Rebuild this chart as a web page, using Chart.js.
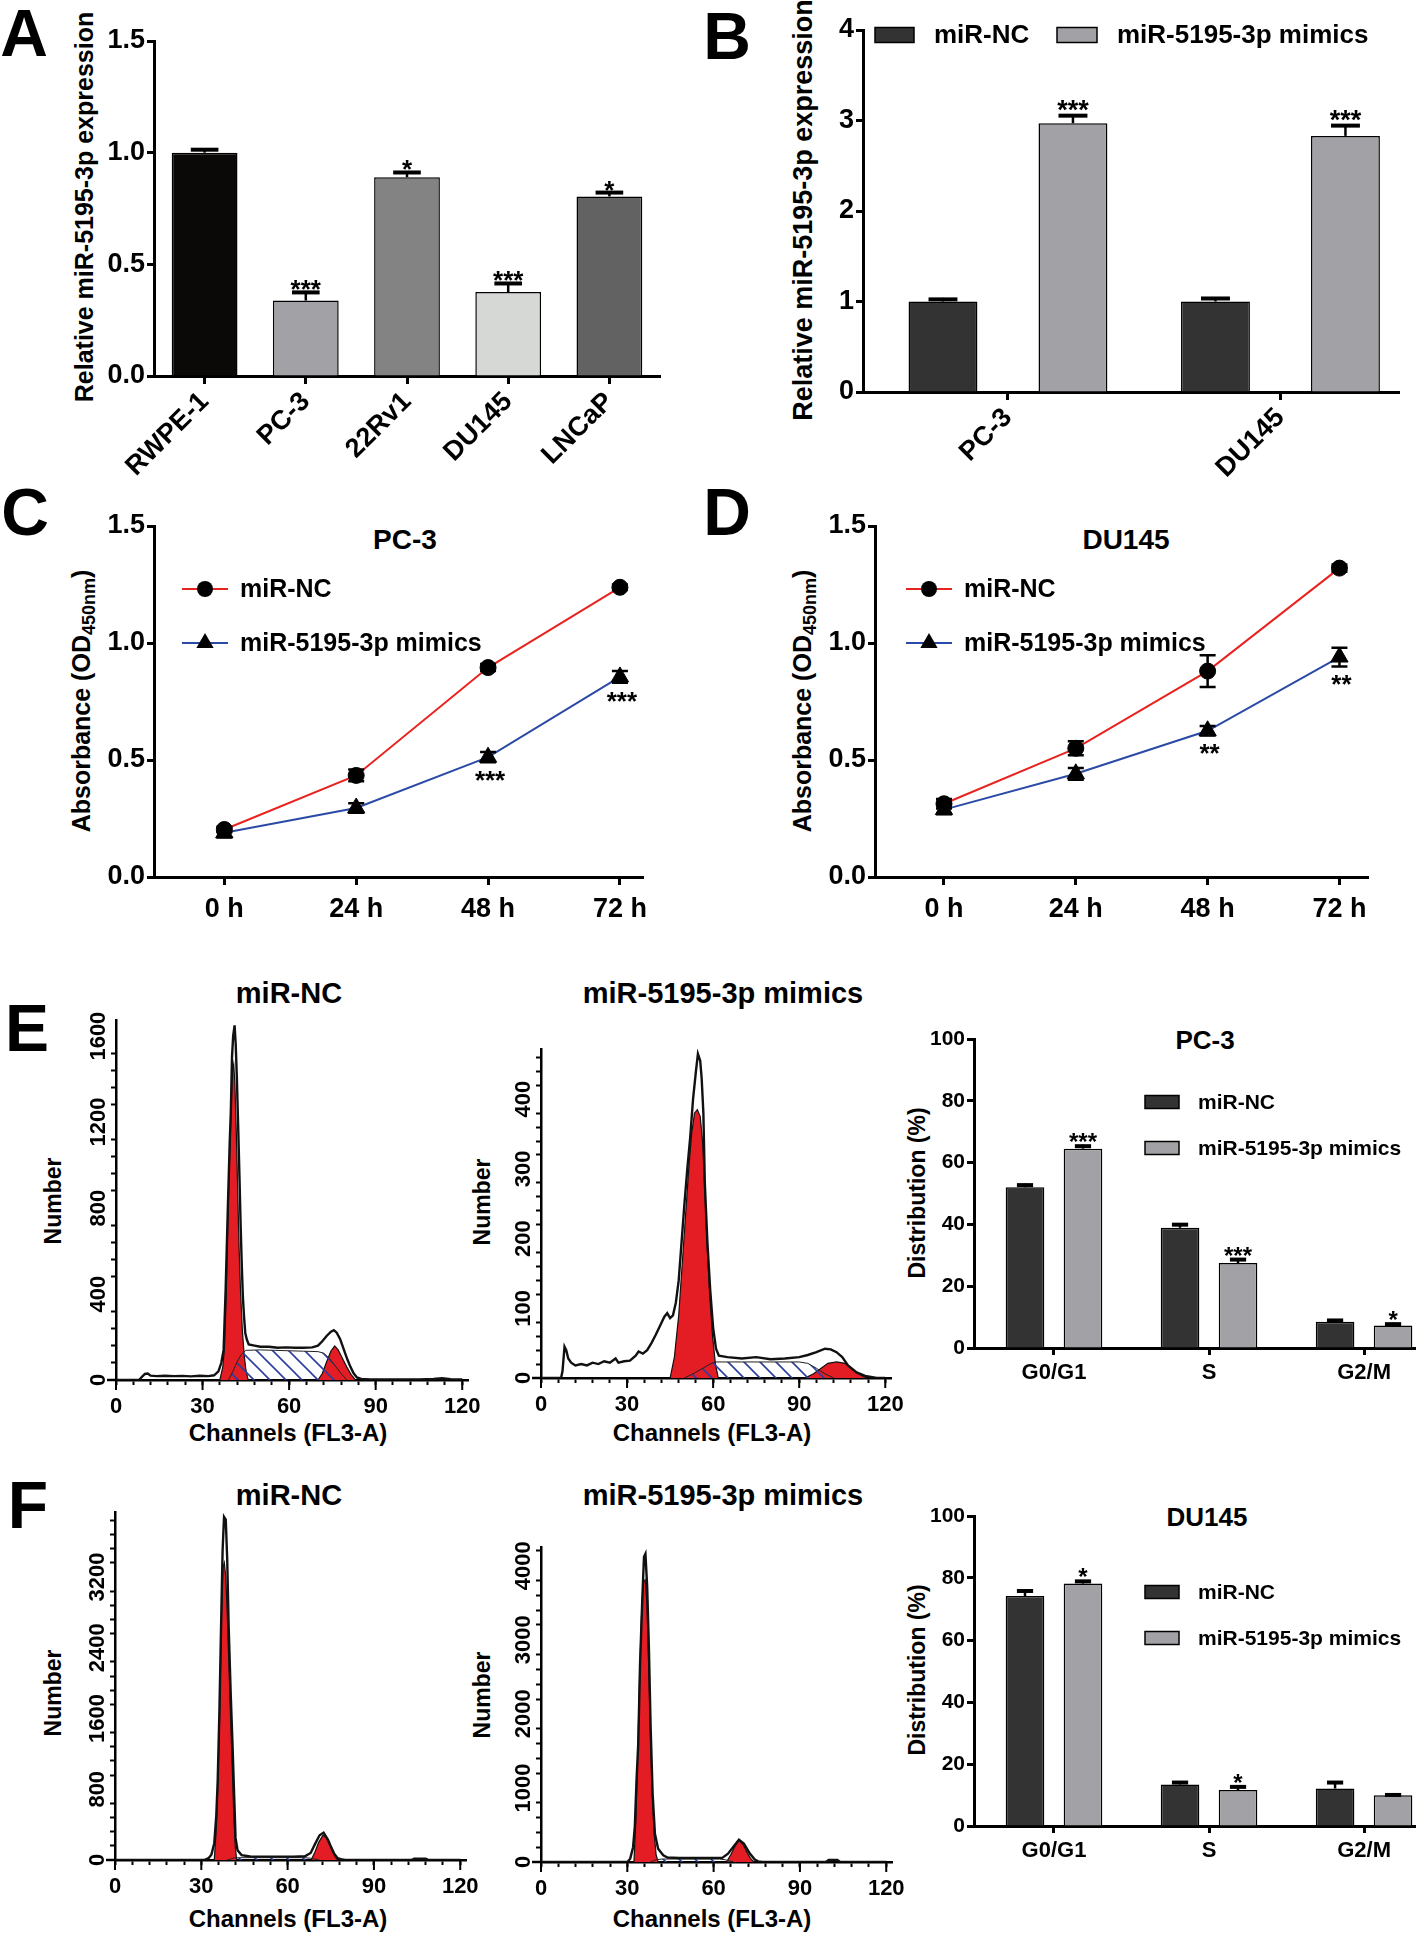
<!DOCTYPE html>
<html>
<head>
<meta charset="utf-8">
<title>miR-5195-3p figure</title>
<script src="https://cdn.jsdelivr.net/npm/chart.js@4.4.1/dist/chart.umd.min.js"></script>
<style>
  html, body { margin: 0; padding: 0; background: #fff; }
  body { position: relative; width: 1416px; height: 1933px; overflow: hidden;
         font-family: "Liberation Sans", Arial, Helvetica, sans-serif; font-weight: bold; color: #000; }
  canvas { position: absolute; }
  .t { position: absolute; white-space: nowrap; line-height: 1; transform: translate(-50%, -50%); }
  .v { transform: translate(-50%, -50%) rotate(-90deg); }
  .lt { font-size: 66px; }
  sub { font-size: 0.72em; vertical-align: -0.28em; line-height: 0; }
</style>
</head>
<body>
<!-- panel letters -->
<div class="t lt" style="left:24px;top:33px">A</div>
<div class="t lt" style="left:727px;top:36px">B</div>
<div class="t lt" style="left:25px;top:512px">C</div>
<div class="t lt" style="left:727px;top:512px">D</div>
<div class="t lt" style="left:27px;top:1028px">E</div>
<div class="t lt" style="left:28px;top:1505px">F</div>

<!-- axis titles -->
<div class="t v" style="left:84px;top:207px;font-size:25px">Relative miR-5195-3p expression</div>
<div class="t v" style="left:803px;top:210px;font-size:27px">Relative miR-5195-3p expression</div>
<div class="t v" style="left:81px;top:701px;font-size:25px">Absorbance (OD<sub>450nm</sub>)</div>
<div class="t v" style="left:802px;top:701px;font-size:25px">Absorbance (OD<sub>450nm</sub>)</div>
<div class="t v" style="left:53px;top:1201px;font-size:23px">Number</div>
<div class="t v" style="left:482px;top:1202px;font-size:23px">Number</div>
<div class="t v" style="left:53px;top:1693px;font-size:23px">Number</div>
<div class="t v" style="left:482px;top:1695px;font-size:23px">Number</div>
<div class="t v" style="left:917px;top:1193px;font-size:23px">Distribution (%)</div>
<div class="t v" style="left:917px;top:1670px;font-size:23px">Distribution (%)</div>

<!-- chart titles -->
<div class="t" style="left:405px;top:540px;font-size:28px">PC-3</div>
<div class="t" style="left:1126px;top:540px;font-size:28px">DU145</div>
<div class="t" style="left:289px;top:993px;font-size:29px">miR-NC</div>
<div class="t" style="left:723px;top:993px;font-size:29px">miR-5195-3p mimics</div>
<div class="t" style="left:289px;top:1495px;font-size:29px">miR-NC</div>
<div class="t" style="left:723px;top:1495px;font-size:29px">miR-5195-3p mimics</div>
<div class="t" style="left:1205px;top:1040px;font-size:26px">PC-3</div>
<div class="t" style="left:1207px;top:1517px;font-size:26px">DU145</div>
<div class="t" style="left:288px;top:1433px;font-size:24px">Channels (FL3-A)</div>
<div class="t" style="left:712px;top:1433px;font-size:24px">Channels (FL3-A)</div>
<div class="t" style="left:288px;top:1919px;font-size:24px">Channels (FL3-A)</div>
<div class="t" style="left:712px;top:1919px;font-size:24px">Channels (FL3-A)</div>

<script>
// ---------- A: miR-5195-3p in cell lines
var cellLines = ["RWPE-1", "PC-3", "22Rv1", "DU145", "LNCaP"];
var exprLines = [1.00, 0.338, 0.89, 0.376, 0.804];
var exprLinesErr = [0.02, 0.043, 0.028, 0.045, 0.024];
var exprLinesSig = ["", "***", "*", "***", "*"];
var exprTicks = [0, 0.5, 1.0, 1.5];
var exprTickLabels = ["0.0", "0.5", "1.0", "1.5"];

// ---------- B: after transfection
var transCells = ["PC-3", "DU145"];
var exprNC = [1.0, 1.0];
var exprNCErr = [0.04, 0.05];
var exprMim = [2.97, 2.83];
var exprMimErr = [0.10, 0.13];
var exprMimSig = ["***", "***"];
var exprBTicks = [0, 1, 2, 3, 4];
var exprBTickLabels = ["0", "1", "2", "3", "4"];

// ---------- C / D: CCK-8
var hours = [0, 24, 48, 72];
var hourLabels = ["0 h", "24 h", "48 h", "72 h"];
var odPC3NC = [0.203, 0.434, 0.895, 1.238];
var odPC3NCErr = [0.012, 0.025, 0.015, 0.012];
var odPC3Mim = [0.189, 0.295, 0.512, 0.855];
var odPC3MimErr = [0.02, 0.02, 0.022, 0.025];
var odPC3Sig = ["", "", "***", "***"];
var odDUNC = [0.313, 0.55, 0.88, 1.32];
var odDUNCErr = [0.02, 0.03, 0.068, 0.015];
var odDUMim = [0.288, 0.441, 0.625, 0.94];
var odDUMimErr = [0.02, 0.025, 0.02, 0.04];
var odDUSig = ["", "", "**", "**"];

// ---------- E / F: cell cycle distribution
var phases = ["G0/G1", "S", "G2/M"];
var ccPC3NC = [52.0, 38.9, 8.5];
var ccPC3NCErr = [1.2, 1.5, 0.9];
var ccPC3Mim = [64.5, 27.5, 7.3];
var ccPC3MimErr = [1.3, 1.6, 0.9];
var ccPC3Sig = ["***", "***", "*"];
var ccDUNC = [74.2, 13.4, 12.1];
var ccDUNCErr = [2.1, 1.1, 2.4];
var ccDUMim = [78.2, 11.6, 9.9];
var ccDUMimErr = [1.2, 1.5, 0.6];
var ccDUSig = ["*", "*", ""];
var pctTicks = [0, 20, 40, 60, 80, 100];
var pctTickLabels = ["0", "20", "40", "60", "80", "100"];

// ---------- flow histograms [channel, count]
var chanTicks = [0, 30, 60, 90, 120];
var chanTickLabels = ["0", "30", "60", "90", "120"];

var histE1Raw = [[0,0],[8,0],[9,15],[10,28],[11,30],[12,20],[14,18],[17,20],[20,18],[23,19],[26,17],[29,20],[32,18],[34,22],[35.5,40],[36.5,80],[37.3,140],[38,420],[38.8,820],[39.4,1100],[39.8,1250],[40.2,1500],[40.6,1600],[41.1,1650],[41.5,1560],[41.9,1400],[42.4,1150],[42.8,940],[43.2,720],[43.6,530],[44,380],[44.4,290],[44.8,220],[45.3,190],[46,165],[48,160],[50,155],[53,155],[56,150],[59,152],[62,150],[65,150],[68,152],[70,160],[71.5,180],[73,205],[74.5,225],[75.5,232],[76.5,220],[77.7,190],[79,140],[80.2,95],[81.3,60],[82.3,32],[83.5,12],[85,5],[88,3],[95,3],[105,3],[110,5],[113,8],[116,4],[120,3]];
var histE1G1 = [[36,0],[37,60],[37.6,150],[38.2,400],[38.8,760],[39.4,1050],[39.9,1260],[40.4,1440],[40.8,1470],[41.2,1380],[41.7,1150],[42.2,870],[42.7,600],[43.2,400],[43.8,230],[44.4,120],[45,50],[45.8,0]];
var histE1G2 = [[70,0],[71.5,30],[73,85],[74.5,135],[75.8,158],[77,140],[78.5,100],[80,60],[81.5,25],[83,0]];
var histE1S = [[39,0],[40.5,40],[42,85],[43.5,120],[45,138],[50,140],[55,138],[60,136],[65,134],[70,132],[72,125],[74,100],[76,65],[78,30],[80,0]];
var histE1YTicks = [0, 400, 800, 1200, 1600];

var histE2Raw = [[0,0],[7,0],[7.5,10],[8.2,45],[8.8,40],[9.5,28],[10.5,22],[12,18],[14,20],[16,18],[18,22],[20,20],[22,24],[24,22],[26,28],[27,22],[29,24],[31,25],[33,32],[34,38],[35.5,35],[37,40],[38.5,50],[40,62],[41.5,75],[43,88],[44,93],[45,86],[46,90],[47,108],[48,140],[49,195],[50,250],[51,300],[52,345],[53,400],[54,440],[54.7,465],[55.5,455],[56,430],[56.6,380],[57.1,280],[58,195],[59,125],[60,72],[61,42],[62,32],[65,30],[70,28],[75,30],[80,27],[85,28],[90,30],[93,33],[96,37],[99,42],[101,41],[103,37],[105,30],[107,18],[110,8],[113,3],[117,0],[120,0]];
var histE2G1 = [[45,0],[46.5,30],[48,90],[49.5,180],[50.5,240],[51.5,300],[52.5,350],[53.5,380],[54.5,385],[55.5,375],[56.3,340],[57,280],[57.8,200],[58.8,120],[59.8,60],[60.8,20],[61.8,0]];
var histE2G2 = [[92,0],[95,6],[98,15],[100,21],[103,23],[106,21],[108,15],[110,8],[112,3],[113.5,0]];
var histE2S = [[50,0],[53,6],[56,13],[58.5,19],[60.5,23],[70,23],[80,23],[90,23],[93,21],[96,14],[99,6],[102,0]];
var histE2YTicks = [0, 100, 200, 300, 400];

var histF1Raw = [[0,0],[31,0],[32.5,20],[33.5,60],[34.5,190],[35.2,500],[35.7,900],[36.3,1700],[36.9,2700],[37.4,3500],[37.9,3880],[38.5,3850],[39,3400],[39.5,2650],[40.2,1900],[40.8,1350],[41.4,750],[41.9,250],[42.6,110],[44,55],[47,40],[52,38],[57,38],[62,38],[66,42],[68,80],[69.6,185],[71.1,280],[72.5,310],[74,230],[75.2,140],[76.2,70],[77.4,20],[79,5],[80,0],[103,0],[104,15],[108,15],[109,0],[120,0]];
var histF1G1 = [[34.5,0],[35.2,350],[35.8,900],[36.4,1700],[37,2700],[37.5,3300],[38,3360],[38.5,3200],[39,2800],[39.6,2200],[40.2,1600],[40.8,1000],[41.3,500],[41.8,150],[42.3,0]];
var histF1G2 = [[68.2,0],[69.5,90],[70.8,200],[72.3,280],[73.5,250],[74.8,160],[76,70],[77,15],[77.6,0]];
var histF1S = [[39,0],[41,20],[43,26],[55,26],[66,26],[68,20],[71,0]];
var histF1YTicks = [0, 800, 1600, 2400, 3200];

var histF2Raw = [[0,0],[30,0],[31,45],[32,200],[32.6,470],[33.2,1100],[33.8,1600],[34.4,2640],[35.2,3540],[35.8,4120],[36.3,4160],[36.9,3720],[37.5,2900],[38.1,1830],[38.8,920],[39.6,380],[40.7,180],[42.5,90],[44,60],[48,55],[53,54],[58,55],[63,56],[65,113],[66.8,203],[68.8,302],[70.5,250],[72.6,113],[74.3,32],[75.5,8],[77,0],[99,0],[100,28],[103,28],[104,0],[120,0]];
var histF2G1 = [[32.3,0],[33,600],[33.6,1400],[34.2,2400],[34.9,3300],[35.6,3780],[36.2,3810],[36.8,3500],[37.4,2700],[38,1800],[38.6,1000],[39.3,400],[40,100],[40.7,0]];
var histF2G2 = [[64.5,0],[66,100],[67.5,220],[68.8,290],[70.2,240],[71.5,140],[72.8,50],[74,0]];
var histF2S = [[38,0],[40,30],[42,40],[55,40],[62,40],[64,30],[67,0]];
var histF2YTicks = [0, 1000, 2000, 3000, 4000];

// ---------- colours
var barColorsA = ["#0b0808", "#a2a2a6", "#838383", "#d6d8d6", "#626262"];
var darkBar = "#333333";
var lightBar = "#a2a2a6";
var redLine = "#e8231f";
var blueLine = "#2b4aa5";
var histRed = "#e41c23";
var hatchBlue = "#2b3f9e";
var FONT = '"Liberation Sans", Arial, sans-serif';

Chart.defaults.font.family = FONT;
Chart.defaults.font.weight = "bold";
Chart.defaults.color = "#000";
Chart.defaults.plugins.legend.display = false;
Chart.defaults.plugins.tooltip.enabled = false;
Chart.defaults.animation = false;

// error bars, stars, legends, rotated histogram labels
var figPlugin = {
  id: "fig",
  afterDatasetsDraw: function (chart) {
    var ctx = chart.ctx, ys = chart.scales.y;
    ctx.save();
    ctx.strokeStyle = "#000";
    ctx.fillStyle = "#000";
    chart.data.datasets.forEach(function (ds, di) {
      if (!ds.errors) return;
      var meta = chart.getDatasetMeta(di);
      meta.data.forEach(function (el, i) {
        var v = ds.data[i].y, e = ds.errors[i];
        var top = ys.getPixelForValue(v + e), bot = ys.getPixelForValue(v - e);
        if (ds.errStyle === "up") {
          var cw = el.width * 0.42;
          ctx.lineWidth = 2.5;
          ctx.beginPath(); ctx.moveTo(el.x, el.y); ctx.lineTo(el.x, top); ctx.stroke();
          ctx.lineWidth = 4;
          ctx.beginPath(); ctx.moveTo(el.x - cw / 2, top + 1.5); ctx.lineTo(el.x + cw / 2, top + 1.5); ctx.stroke();
        } else {
          ctx.lineWidth = 2.5;
          ctx.beginPath();
          ctx.moveTo(el.x, top); ctx.lineTo(el.x, bot);
          ctx.moveTo(el.x - 8, top); ctx.lineTo(el.x + 8, top);
          ctx.moveTo(el.x - 8, bot); ctx.lineTo(el.x + 8, bot);
          ctx.stroke();
        }
        var s = ds.stars && ds.stars[i];
        if (s) {
          var fs = ds.starSize || 26;
          ctx.font = "bold " + fs + "px " + FONT;
          ctx.textAlign = "center";
          ctx.textBaseline = "alphabetic";
          if (ds.errStyle === "up") ctx.fillText(s, el.x, top - (ds.starGap || 4) + 0.44 * fs);
          else ctx.fillText(s, el.x + 2, bot + (ds.starGap || 9) + 0.72 * fs);
        }
      });
    });
    ctx.restore();
  },
  afterDraw: function (chart) {
    var ex = chart.canvas.figExtra;
    if (!ex) return;
    var ctx = chart.ctx, ox = ex.left, oy = ex.top, ca = chart.chartArea;
    ctx.save();
    (ex.legend || []).forEach(function (it) {
      var y = it.y - oy;
      if (it.box) {
        ctx.fillStyle = it.fill;
        ctx.strokeStyle = "#000";
        ctx.lineWidth = 1.5;
        ctx.fillRect(it.x1 - ox, y - it.h / 2, it.x2 - it.x1, it.h);
        ctx.strokeRect(it.x1 - ox, y - it.h / 2, it.x2 - it.x1, it.h);
      } else {
        ctx.strokeStyle = it.color;
        ctx.lineWidth = 2;
        ctx.beginPath(); ctx.moveTo(it.x1 - ox, y); ctx.lineTo(it.x2 - ox, y); ctx.stroke();
        ctx.fillStyle = "#000";
        var mx = it.mx - ox;
        ctx.beginPath();
        if (it.marker === "circle") {
          ctx.arc(mx, y, it.r, 0, Math.PI * 2);
        } else {
          var a = 0;
          for (var k = 0; k < 3; k++) {
            var px = mx + Math.sin(a) * it.r, py = y - Math.cos(a) * it.r;
            if (k === 0) ctx.moveTo(px, py); else ctx.lineTo(px, py);
            a += Math.PI * 2 / 3;
          }
          ctx.closePath();
        }
        ctx.fill();
      }
      ctx.fillStyle = "#000";
      ctx.font = "bold " + it.size + "px " + FONT;
      ctx.textAlign = "left";
      ctx.textBaseline = "middle";
      ctx.fillText(it.text, it.tx - ox, y + 1);
    });
    if (ex.yLabels) {
      var ys = chart.scales.y;
      ctx.fillStyle = "#000";
      ctx.font = "bold " + ex.yLabels.size + "px " + FONT;
      ctx.textAlign = "center";
      ctx.textBaseline = "alphabetic";
      ex.yLabels.values.forEach(function (v, i) {
        ctx.save();
        ctx.translate(ca.left - 11, ys.getPixelForValue(v));
        ctx.rotate(-Math.PI / 2);
        ctx.fillText(ex.yLabels.labels[i], 0, 0);
        ctx.restore();
      });
    }
    if (ex.xExt) {
      var xs = chart.scales.x;
      ctx.strokeStyle = "#000";
      ctx.lineWidth = 2.5;
      ctx.beginPath(); ctx.moveTo(ca.left - ex.xExt, ca.bottom); ctx.lineTo(ca.left, ca.bottom); ctx.stroke();
      // labelled channel ticks are a little longer than the minor ones
      ctx.lineWidth = 2;
      ctx.beginPath();
      chanTicks.forEach(function (c) {
        var px = xs.getPixelForValue(c);
        ctx.moveTo(px, ca.bottom); ctx.lineTo(px, ca.bottom + 10);
      });
      ctx.stroke();
    }
    ctx.restore();
  }
};

// GraphPad-like axis: line plus outward ticks only
function axis(o) {
  return {
    type: "linear",
    min: o.min, max: o.max,
    offset: false,
    border: { display: true, color: "#000", width: o.lw || 3 },
    grid: { display: true, drawOnChartArea: false, drawTicks: true, offset: false,
            tickLength: o.tl || 8, tickWidth: o.tw || 3, color: "#000", tickColor: "#000" },
    ticks: { display: o.show !== false, autoSkip: false, color: "#000",
             padding: o.pad == null ? 3 : o.pad,
             font: { size: o.size || 27, weight: "bold" },
             minRotation: o.rot || 0, maxRotation: o.rot || 0,
             callback: function (v) { var i = o.values.indexOf(v); return i < 0 ? "" : o.labels[i]; } },
    afterBuildTicks: function (s) { s.ticks = o.ticks.map(function (v) { return { value: v }; }); }
  };
}

function makeChart(area, pad, build, extra) {
  var cv = document.createElement("canvas");
  var w = Math.round(area.r - area.l + pad.l + pad.r);
  var h = Math.round(area.b - area.t + pad.t + pad.b);
  var left = Math.round(area.l - pad.l), top = Math.round(area.t - pad.t);
  cv.width = w; cv.height = h;
  cv.style.left = left + "px"; cv.style.top = top + "px";
  cv.style.width = w + "px"; cv.style.height = h + "px";
  document.body.appendChild(cv);
  cv.figExtra = Object.assign({ left: left, top: top }, extra || {});
  var cfg = build(cv.getContext("2d"));
  var o = cfg.options;
  o.responsive = false;
  o.maintainAspectRatio = false;
  o.devicePixelRatio = 1;
  o.animation = false;
  o.layout = { padding: { left: 0, top: pad.t, right: pad.r, bottom: 0 } };
  o.scales.y.afterFit = function (s) { s.width = pad.l; };
  o.scales.x.afterFit = function (s) { s.height = pad.b; };
  cfg.plugins = [figPlugin];
  return new Chart(cv, cfg);
}

function pts(xs, ys) { return xs.map(function (x, i) { return { x: x, y: ys[i] }; }); }
function idx(arr) { return arr.map(function (c, i) { return i; }); }
function pairs(arr) { return arr.map(function (p) { return { x: p[0], y: p[1] }; }); }

// ---------- A
makeChart({ l: 154, t: 41, r: 660, b: 376 }, { l: 154, t: 41, r: 20, b: 125 }, function () {
  return {
    type: "bar",
    data: { datasets: [{
      data: pts(idx(cellLines), exprLines), errors: exprLinesErr, errStyle: "up",
      stars: exprLinesSig, starSize: 26, starGap: 4,
      backgroundColor: barColorsA, borderColor: "#000", borderWidth: 1.5,
      categoryPercentage: 1, barPercentage: 0.65
    }] },
    options: { scales: {
      x: axis({ min: -0.5, max: 4.5, ticks: idx(cellLines), values: idx(cellLines), labels: cellLines, rot: 45, pad: 2 }),
      y: axis({ min: 0, max: 1.5, ticks: exprTicks, values: exprTicks, labels: exprTickLabels, tl: 7, pad: 2 })
    } }
  };
});

// ---------- B
makeChart({ l: 863, t: 30, r: 1399, b: 392 }, { l: 85, t: 30, r: 17, b: 120 }, function () {
  return {
    type: "bar",
    data: { datasets: [
      { data: pts(idx(transCells), exprNC), errors: exprNCErr, errStyle: "up",
        backgroundColor: darkBar, borderColor: "#000", borderWidth: 1.5,
        categoryPercentage: 0.954, barPercentage: 0.53 },
      { data: pts(idx(transCells), exprMim), errors: exprMimErr, errStyle: "up",
        stars: exprMimSig, starSize: 27, starGap: 7,
        backgroundColor: lightBar, borderColor: "#000", borderWidth: 1.5,
        categoryPercentage: 0.954, barPercentage: 0.53 }
    ] },
    options: { scales: {
      x: axis({ min: -0.532, max: 1.435, ticks: idx(transCells), values: idx(transCells), labels: transCells, rot: 45, pad: 2 }),
      y: axis({ min: 0, max: 4, ticks: exprBTicks, values: exprBTicks, labels: exprBTickLabels, tl: 7, pad: 2 })
    } }
  };
}, { legend: [
  { box: true, x1: 875, x2: 914, y: 35, h: 15, fill: darkBar, text: "miR-NC", tx: 934, size: 26 },
  { box: true, x1: 1057, x2: 1097, y: 35, h: 15, fill: lightBar, text: "miR-5195-3p mimics", tx: 1117, size: 26 }
] });

// ---------- C / D
function growth(area, xmin, xmax, nc, ncErr, mim, mimErr, sig, legX) {
  makeChart(area, { l: 100, t: 30, r: 30, b: 60 }, function () {
    return {
      type: "line",
      data: { datasets: [
        { data: pts(hours, nc), errors: ncErr, errStyle: "both",
          borderColor: redLine, borderWidth: 2, fill: false, tension: 0,
          pointStyle: "circle", pointRadius: 8, pointBackgroundColor: "#000", pointBorderColor: "#000", pointBorderWidth: 1 },
        { data: pts(hours, mim), errors: mimErr, errStyle: "both", stars: sig, starSize: 26, starGap: 8,
          borderColor: blueLine, borderWidth: 2, fill: false, tension: 0,
          pointStyle: "triangle", pointRadius: 10, pointBackgroundColor: "#000", pointBorderColor: "#000", pointBorderWidth: 1 }
      ] },
      options: { scales: {
        x: axis({ min: xmin, max: xmax, ticks: hours, values: hours, labels: hourLabels, pad: 8 }),
        y: axis({ min: 0, max: 1.5, ticks: exprTicks, values: exprTicks, labels: exprTickLabels, tl: 7, pad: 2 })
      } }
    };
  }, { legend: [
    { x1: legX, x2: legX + 46, mx: legX + 23, y: 589, r: 8, marker: "circle", color: redLine, text: "miR-NC", tx: legX + 58, size: 25 },
    { x1: legX, x2: legX + 46, mx: legX + 23, y: 643, r: 10, marker: "triangle", color: blueLine, text: "miR-5195-3p mimics", tx: legX + 58, size: 25 }
  ] });
}
growth({ l: 154, t: 526, r: 643, b: 877 }, -12.8, 76.2, odPC3NC, odPC3NCErr, odPC3Mim, odPC3MimErr, odPC3Sig, 182);
growth({ l: 875, t: 526, r: 1368, b: 877 }, -12.56, 77.2, odDUNC, odDUNCErr, odDUMim, odDUMimErr, odDUSig, 906);

// ---------- flow cytometry histograms
function hatchPattern(ctx, color) {
  var c = document.createElement("canvas");
  c.width = 16; c.height = 16;
  var g = c.getContext("2d");
  g.strokeStyle = color; g.lineWidth = 1.6;
  g.beginPath();
  g.moveTo(-2, -2); g.lineTo(18, 18);
  g.moveTo(-2, 14); g.lineTo(2, 18);
  g.moveTo(14, -2); g.lineTo(18, 2);
  g.stroke();
  return ctx.createPattern(c, "repeat");
}

function histogram(area, ymax, minorStep, yTicks, raw, g1, g2, sph) {
  var yMinor = [];
  for (var v = 0; v <= ymax; v += minorStep) yMinor.push(v);
  var xMinor = [];
  for (var c = 0; c <= 120; c += 6) xMinor.push(c);
  makeChart(area, { l: 45, t: 15, r: 30, b: 40 }, function (ctx) {
    return {
      type: "line",
      data: { datasets: [
        { data: pairs(raw), borderColor: "#111", borderWidth: 2.4, pointRadius: 0, fill: false, tension: 0 },
        { data: pairs(sph), borderColor: "#222", borderWidth: 1, pointRadius: 0, fill: "origin", backgroundColor: hatchPattern(ctx, hatchBlue) },
        { data: pairs(g1), borderColor: "#111", borderWidth: 1.2, pointRadius: 0, fill: "origin", backgroundColor: histRed },
        { data: pairs(g2), borderColor: "#111", borderWidth: 1.2, pointRadius: 0, fill: "origin", backgroundColor: histRed }
      ] },
      options: { scales: {
        x: axis({ min: 0, max: 122, ticks: xMinor, values: chanTicks, labels: chanTickLabels, size: 22, tl: 5, tw: 2, lw: 2.5, pad: 9 }),
        y: axis({ min: 0, max: ymax, ticks: yMinor, values: yTicks, labels: [], show: false, tl: 5, tw: 2, lw: 2.5 })
      } }
    };
  }, { yLabels: { values: yTicks, labels: yTicks.map(String), size: 22 }, xExt: 9 });
}
histogram({ l: 116, t: 1020, r: 468, b: 1380 }, 1675, 80, histE1YTicks, histE1Raw, histE1G1, histE1G2, histE1S);
histogram({ l: 541, t: 1049, r: 891, b: 1378 }, 472, 20, histE2YTicks, histE2Raw, histE2G1, histE2G2, histE2S);
histogram({ l: 115, t: 1512, r: 466, b: 1860 }, 3935, 160, histF1YTicks, histF1Raw, histF1G1, histF1G2, histF1S);
histogram({ l: 541, t: 1547, r: 892, b: 1862 }, 4252, 200, histF2YTicks, histF2Raw, histF2G1, histF2G2, histF2S);

// ---------- cell cycle bar charts
function cycle(area, nc, ncErr, mim, mimErr, sig, legY) {
  makeChart(area, { l: 60, t: 20, r: 0, b: 45 }, function () {
    return {
      type: "bar",
      data: { datasets: [
        { data: pts(idx(phases), nc), errors: ncErr, errStyle: "up",
          backgroundColor: darkBar, borderColor: "#000", borderWidth: 1.5,
          categoryPercentage: 0.748, barPercentage: 0.666 },
        { data: pts(idx(phases), mim), errors: mimErr, errStyle: "up", stars: sig, starSize: 24, starGap: 5,
          backgroundColor: lightBar, borderColor: "#000", borderWidth: 1.5,
          categoryPercentage: 0.748, barPercentage: 0.666 }
      ] },
      options: { scales: {
        x: axis({ min: -0.516, max: 2.335, ticks: idx(phases), values: idx(phases), labels: phases, size: 22, tl: 7, pad: 5 }),
        y: axis({ min: 0, max: 100, ticks: pctTicks, values: pctTicks, labels: pctTickLabels, size: 21, tl: 7, pad: 2 })
      } }
    };
  }, { legend: [
    { box: true, x1: 1145, x2: 1179, y: legY, h: 13, fill: darkBar, text: "miR-NC", tx: 1198, size: 21 },
    { box: true, x1: 1145, x2: 1179, y: legY + 46, h: 13, fill: lightBar, text: "miR-5195-3p mimics", tx: 1198, size: 21 }
  ] });
}
cycle({ l: 974, t: 1039, r: 1416, b: 1348 }, ccPC3NC, ccPC3NCErr, ccPC3Mim, ccPC3MimErr, ccPC3Sig, 1102);
cycle({ l: 974, t: 1516, r: 1416, b: 1826 }, ccDUNC, ccDUNCErr, ccDUMim, ccDUMimErr, ccDUSig, 1592);
</script>
</body>
</html>
